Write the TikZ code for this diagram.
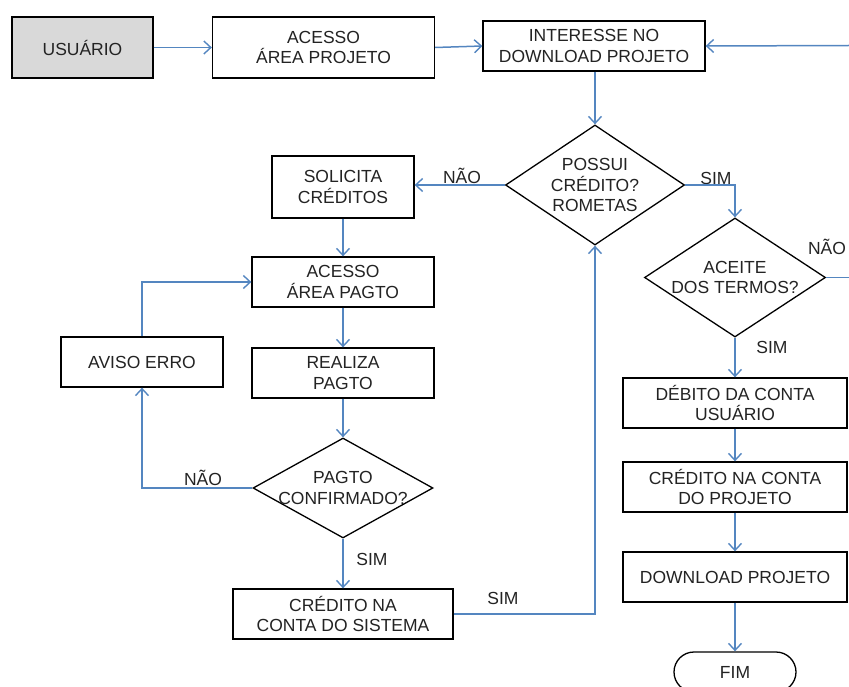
\documentclass[tikz,border=0pt]{standalone}
\usepackage{fontspec}
\setmainfont{Liberation Sans}
\usetikzlibrary{shapes.geometric,shapes.misc,arrows.meta}
\definecolor{flow}{RGB}{84,134,192}
\definecolor{grayfill}{RGB}{217,217,217}
\definecolor{ink}{RGB}{35,35,35}
\begin{document}
\begin{tikzpicture}[x=1pt,y=-1pt,
  txt/.style={font=\fontsize{17.5}{20.5}\selectfont, align=center, text=ink, inner sep=0pt},
  box/.style={txt, draw=black, line width=1.3pt, fill=white, minimum width=#1},
  box/.default=182pt,
  dia/.style={draw=black, line width=1.3pt, fill=white, diamond, inner sep=0pt},
  lbl/.style={txt},
  conn/.style={draw=flow, line width=1.5pt, -{Straight Barb[length=7pt,width=13pt,line width=1.4pt]}},
  plain/.style={draw=flow, line width=1.5pt}
]
\clip (0,0) rectangle (849,687);
\useasboundingbox (0,0) rectangle (849,687);

% top row
\node[box=141pt, minimum height=61pt, fill=grayfill] (usu) at (82.5,47.5) {USUÁRIO};
\node[box=222pt, minimum height=61pt] (acp) at (323.5,47.5) {ACESSO\\ÁREA PROJETO};
\node[box=222pt, minimum height=50pt] (int) at (594,46) {INTERESSE NO\\DOWNLOAD PROJETO};
\coordinate (rin) at (849,45.5);

% central decision
\node[dia, minimum width=179pt, minimum height=120pt] (pos) at (595,185) {};
\node[txt] (post) at (pos.center) {POSSUI\\CRÉDITO?\\ROMETAS};

% left branch
\node[box=142pt, minimum height=62pt] (sol) at (343,187) {SOLICITA\\CRÉDITOS};
\node[box=182pt, minimum height=50pt] (apg) at (343,282) {ACESSO\\ÁREA PAGTO};
\node[box=182pt, minimum height=50pt] (rea) at (343,373) {REALIZA\\PAGTO};
\node[dia, minimum width=180pt, minimum height=100pt] (pag) at (343,488) {};
\node[txt] (pagt) at (pag.center) {PAGTO\\CONFIRMADO?};
\node[box=162pt, minimum height=50pt] (avi) at (142,362) {AVISO ERRO};
\node[box=220pt, minimum height=50pt] (csi) at (343,614) {CRÉDITO NA\\CONTA DO SISTEMA};

% right branch
\node[dia, minimum width=181pt, minimum height=119pt] (ace) at (735,277.5) {};
\node[txt] (acet) at (ace.center) {ACEITE\\DOS TERMOS?};
\coordinate (rout) at (849,277.5);
\node[box=224pt, minimum height=50pt] (deb) at (735,403) {DÉBITO DA CONTA\\USUÁRIO};
\node[box=224pt, minimum height=50pt] (cpr) at (735,487) {CRÉDITO NA CONTA\\DO PROJETO};
\node[box=224pt, minimum height=50pt] (dwn) at (735,577) {DOWNLOAD PROJETO};
\node[txt, draw=black, line width=1.3pt, fill=white, rounded rectangle, minimum width=122pt, minimum height=40pt] (fim) at (735,672) {FIM};

% labels
\node[lbl] (l1) at (462,176) {NÃO};
\node[lbl] (l2) at (716,178) {SIM};
\node[lbl] (l3) at (827,247) {NÃO};
\node[lbl] (l4) at (772,347) {SIM};
\node[lbl] (l5) at (203,478) {NÃO};
\node[lbl] (l6) at (372,559) {SIM};
\node[lbl] (l7) at (503,598) {SIM};

% connectors
\draw[conn] (usu.east) -- (acp.west);
\draw[conn] (acp.east) -- (int.west);
\draw[conn] (rin) -- (int.east);
\draw[conn] (int.south -| pos.north) -- (pos.north);
\draw[conn] (pos.west) -- (pos.west -| sol.east);
\draw[conn] (pos.east) -| (ace.north);
\draw[plain] (ace.east) -- (rout);
\draw[conn] (sol.south) -- (apg.north);
\draw[conn] (apg.south) -- (rea.north);
\draw[conn] (rea.south) -- (pag.north);
\draw[conn] (pag.south) -- (csi.north);
\draw[conn] (pag.west) -| (avi.south);
\draw[conn] (avi.north) |- (apg.west);
\draw[conn] (csi.east) -| (pos.south);
\draw[conn] (ace.south) -- (deb.north);
\draw[conn] (deb.south) -- (cpr.north);
\draw[conn] (cpr.south) -- (dwn.north);
\draw[conn] (dwn.south) -- (fim.north);
\end{tikzpicture}
\end{document}
